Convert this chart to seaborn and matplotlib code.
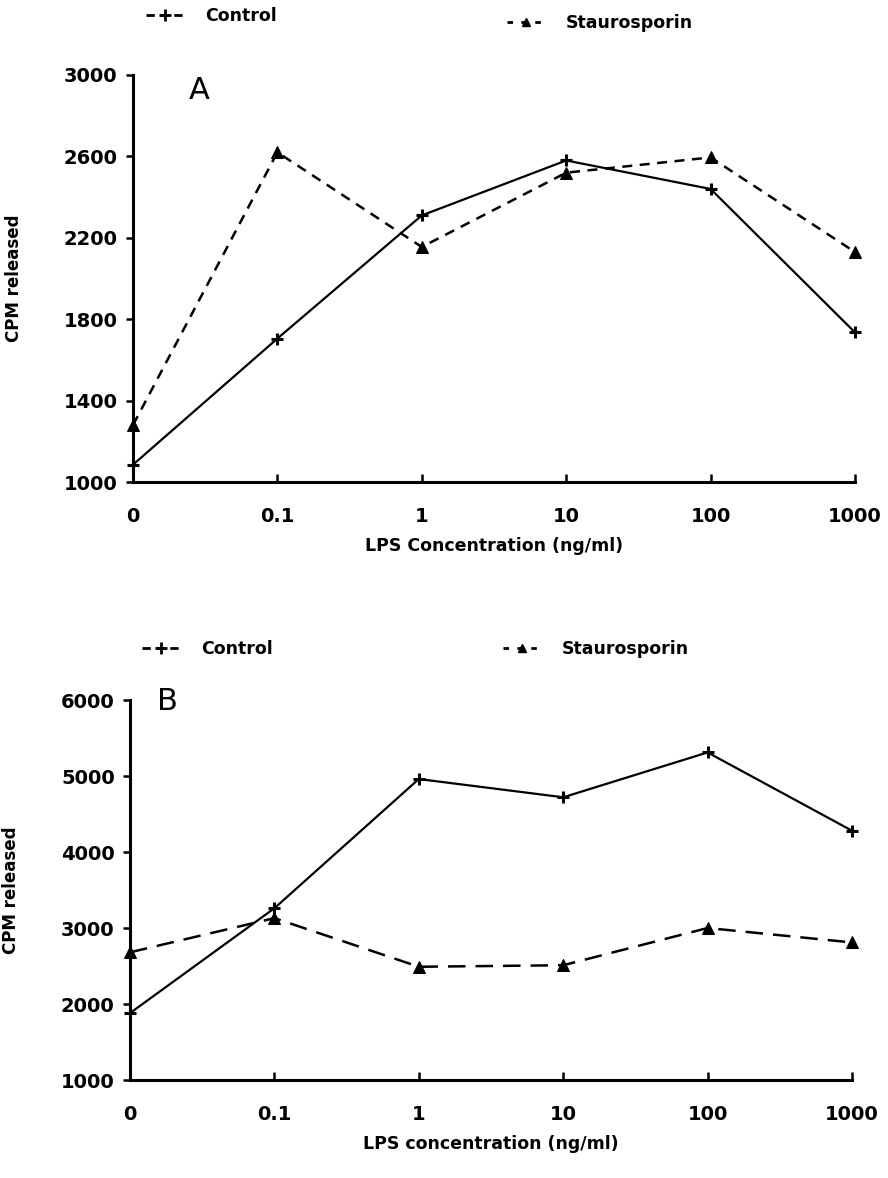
import pandas as pd
import matplotlib.pyplot as plt
import seaborn as sns
from matplotlib.lines import Line2D

# LPS concentrations (ng/ml), plotted at evenly spaced positions
conc_labels = ["0", "0.1", "1", "10", "100", "1000"]

# Panel A values (CPM released)
a_control = [1085, 1705, 2310, 2580, 2440, 1735]
a_stauro = [1280, 2620, 2155, 2520, 2595, 2130]

# Panel B values (CPM released)
b_control = [1880, 3260, 4960, 4720, 5310, 4280]
b_stauro = [2680, 3130, 2490, 2510, 3000, 2810]

a_yticks = [1000, 1400, 1800, 2200, 2600, 3000]
b_yticks = [1000, 2000, 3000, 4000, 5000, 6000]

sns.set_theme(style="ticks")
plt.rcParams["font.family"] = ["DejaVu Sans"]
plt.rcParams["font.weight"] = "bold"
for key in ["text.color", "axes.labelcolor", "xtick.color", "ytick.color"]:
    plt.rcParams[key] = "black"

fig = plt.figure(figsize=(8.88, 11.78), dpi=100)
W, H = 888, 1178


def box(left, right, top, bottom):
    return [left / W, 1 - bottom / H, (right - left) / W, (bottom - top) / H]


ax_a = fig.add_axes(box(133, 855, 75, 482))
ax_b = fig.add_axes(box(130, 852, 700, 1080))


def draw_panel(ax, control, stauro, yticks, dash, letter, letter_x, letter_y, xlabel):
    pos = list(range(len(conc_labels)))
    df_c = pd.DataFrame({"pos": pos, "cpm": control})
    df_s = pd.DataFrame({"pos": pos, "cpm": stauro})
    sns.lineplot(data=df_c, x="pos", y="cpm", ax=ax, color="black", lw=1.6,
                 marker="+", markersize=8, markeredgewidth=2.2,
                 markeredgecolor="black")
    sns.lineplot(data=df_s, x="pos", y="cpm", ax=ax, color="black", lw=1.8,
                 marker="^", markersize=9, markeredgecolor="black",
                 markerfacecolor="black")
    ax.lines[-1].set_dashes(dash)
    ax.set_xlim(0, len(conc_labels) - 1)
    ax.set_ylim(yticks[0], yticks[-1])
    ax.set_xticks(pos, conc_labels)
    ax.set_yticks(yticks)
    for line in ax.lines:
        line.set_clip_on(False)
    sns.despine(ax=ax)
    for s in ["left", "bottom"]:
        ax.spines[s].set_linewidth(2.2)
        ax.spines[s].set_color("black")
    ax.tick_params(axis="x", direction="in", length=6, width=1.8, pad=18,
                   labelsize=14)
    ax.tick_params(axis="y", direction="out", length=5, width=1.8, pad=6,
                   labelsize=14)
    ax.set_xlabel(xlabel, fontsize=12.5, fontweight="bold", labelpad=8)
    ax.set_ylabel("CPM released", fontsize=12, fontweight="bold")
    ax.yaxis.set_label_coords(-0.152, 0.5)
    ax.text(letter_x, letter_y, letter, fontsize=22, fontweight="normal",
            ha="center", va="center")


draw_panel(ax_a, a_control, a_stauro, a_yticks, (4, 3), "A", 0.46, 2925,
           "LPS Concentration (ng/ml)")
draw_panel(ax_b, b_control, b_stauro, b_yticks, (7, 4), "B", 0.26, 5975,
           "LPS concentration (ng/ml)")

# Legends placed above each panel
h_control = Line2D([], [], color="black", lw=2, ls=(0, (3, 2)), marker="+",
                   markersize=8, markeredgewidth=2)
h_stauro = Line2D([], [], color="black", lw=2, ls=(0, (2, 3)), marker="^",
                  markersize=6)


def add_legend(handle, label, x, y):
    leg = fig.legend([handle], [label], loc="center left",
                     bbox_to_anchor=(x / W, 1 - y / H), frameon=False,
                     handlelength=2.2, handletextpad=1.2, borderpad=0,
                     prop={"size": 12.5, "weight": "bold"})
    return leg


add_legend(h_control, "Control", 137, 16)
add_legend(h_stauro, "Staurosporin", 498, 23)
add_legend(h_control, "Control", 133, 649)
add_legend(h_stauro, "Staurosporin", 494, 649)

fig.savefig("out.png", dpi=100)
